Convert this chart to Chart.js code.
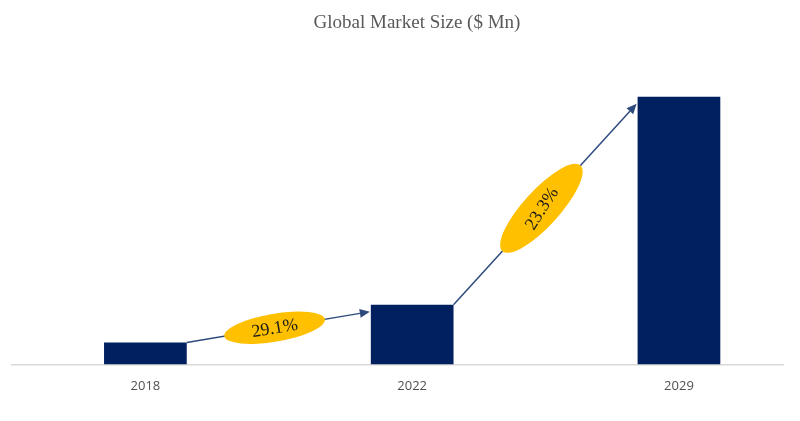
<!DOCTYPE html>
<html><head><meta charset="utf-8">
<script src="https://cdn.jsdelivr.net/npm/chart.js@4"></script>
<style>html,body{margin:0;padding:0;background:#fff}#wrap{width:800px;height:421px;position:relative}</style>
</head><body><div id="wrap"><canvas id="c"></canvas></div>
<script>
const chartTitle = "Global Market Size ($ Mn)";
const years = ["2018", "2022", "2029"];
const marketSize = [22, 60, 269];
const cagrLabels = ["29.1%", "23.3%"];

const titlePlugin = {
  id: 'customTitle',
  afterDraw(chart) {
    const ctx = chart.ctx;
    ctx.save();
    ctx.font = '19px "Liberation Serif", serif';
    ctx.fillStyle = '#595959';
    ctx.textAlign = 'center';
    ctx.textBaseline = 'middle';
    ctx.fillText(chartTitle, 417, 23);
    ctx.restore();
  }
};

const cagrPlugin = {
  id: 'cagrArrows',
  afterDatasetsDraw(chart) {
    const ctx = chart.ctx;
    const meta = chart.getDatasetMeta(0);
    const ell = [[51, 14], [58, 18]];
    const extraTextTilt = [0, -0.17];
    ctx.save();
    for (let i = 0; i < cagrLabels.length; i++) {
      const a = meta.data[i], b = meta.data[i + 1];
      const x1 = a.x + a.width / 2, y1 = a.y;
      const x2 = b.x - b.width / 2 - 1, y2 = b.y + 7;
      const ang = Math.atan2(y2 - y1, x2 - x1);
      ctx.strokeStyle = '#2E4A7D';
      ctx.fillStyle = '#2E4A7D';
      ctx.lineWidth = 1.5;
      const hl = 10, hw = 4.5;
      const bx = x2 - hl * Math.cos(ang), by = y2 - hl * Math.sin(ang);
      ctx.beginPath(); ctx.moveTo(x1, y1); ctx.lineTo(bx, by); ctx.stroke();
      ctx.beginPath();
      ctx.moveTo(x2, y2);
      ctx.lineTo(bx + hw * Math.sin(ang), by - hw * Math.cos(ang));
      ctx.lineTo(bx - hw * Math.sin(ang), by + hw * Math.cos(ang));
      ctx.closePath(); ctx.fill();
      const t = 0.48;
      const cx = x1 + (x2 - x1) * t, cy = y1 + (y2 - y1) * t;
      ctx.beginPath();
      ctx.ellipse(cx, cy, ell[i][0], ell[i][1], ang, 0, Math.PI * 2);
      ctx.fillStyle = '#FFC000';
      ctx.fill();
      ctx.save();
      ctx.translate(cx, cy);
      ctx.rotate(ang + extraTextTilt[i]);
      ctx.font = '18px "Liberation Serif", serif';
      ctx.fillStyle = '#1a1a1a';
      ctx.textAlign = 'center';
      ctx.textBaseline = 'middle';
      ctx.fillText(cagrLabels[i], 0, 1);
      ctx.restore();
    }
    ctx.restore();
  }
};

new Chart(document.getElementById('c'), {
  type: 'bar',
  data: {
    datasets: [{
      data: marketSize.map((v, i) => ({ x: i, y: v })),
      backgroundColor: '#002060',
      borderWidth: 0,
      barPercentage: 0.31,
      categoryPercentage: 1
    }]
  },
  options: {
    responsive: true,
    maintainAspectRatio: false,
    animation: false,
    layout: { padding: { top: 66, left: 12, right: 17, bottom: 13 } },
    plugins: { legend: { display: false }, tooltip: { enabled: false }, title: { display: false } },
    scales: {
      x: {
        type: 'linear',
        offset: false,
        min: -0.5,
        max: 2.39,
        afterBuildTicks: (scale) => { scale.ticks = years.map((_, i) => ({ value: i })); },
        ticks: {
          callback: (v) => years[v],
          font: { family: '"Open Sans", sans-serif', size: 13 },
          color: '#505050',
          padding: 14,
          maxRotation: 0,
          autoSkip: false
        },
        grid: { display: false, drawTicks: false },
        border: { display: true, color: '#D9D9D9', width: 1.5 }
      },
      y: {
        display: false,
        min: 0,
        max: 300
      }
    }
  },
  plugins: [titlePlugin, cagrPlugin]
});
</script>
</body></html>
